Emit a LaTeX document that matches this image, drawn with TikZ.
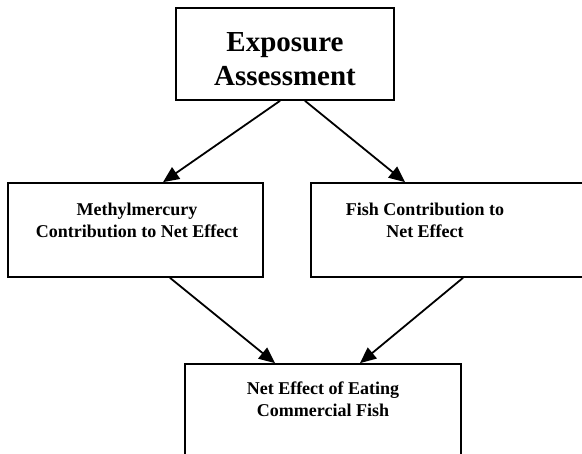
\documentclass[tikz,border=0pt]{standalone}
\usepackage{fontspec}
\setmainfont{Liberation Serif}
\usetikzlibrary{arrows.meta}

\tikzset{
  box/.style={draw, line width=1.7pt, rectangle, inner sep=0pt},
  bigtext/.style={font=\bfseries\fontsize{29}{34}\selectfont, align=center, inner sep=0pt},
  smalltext/.style={font=\bfseries\fontsize{18}{22}\selectfont, align=center, inner sep=0pt},
  arr/.style={line width=1.8pt, -{Triangle[length=16pt, width=14pt]}}
}

\begin{document}
\begin{tikzpicture}[x=1pt, y=-1pt]

    % --- Frame ---
    \useasboundingbox (0,0) rectangle (582,454);
    \clip (0,0) rectangle (582,454);

    % --- Boxes ---
    % Top box
    \node[box, minimum width=218pt, minimum height=92pt] (expo) at (285,54) {};
    % Middle boxes (the right one runs off the page)
    \node[box, minimum width=255pt, minimum height=94pt] (meth) at (135.5,230) {};
    \node[box, minimum width=279pt, minimum height=94pt] (fish) at (450.5,230) {};
    % Bottom box (runs off the bottom)
    \node[box, minimum width=276pt, minimum height=106pt] (net) at (323,417) {};

    % --- Texts ---
    \node[bigtext] (expotxt) at (285,59.5) {Exposure\\Assessment};
    \node[smalltext] (methtxt) at (137,220.5) {Methylmercury\\Contribution to Net Effect};
    \node[smalltext] (fishtxt) at (425,220.5) {Fish Contribution to\\Net Effect};
    \node[smalltext] (nettxt) at (323,399) {Net Effect of Eating\\Commercial Fish};

    % --- Arrows ---
    \draw[arr] ([xshift=-5pt]expo.south) -- ([xshift=27.5pt]meth.north);
    \draw[arr] ([xshift=20pt]expo.south) -- ([xshift=-45.5pt]fish.north);
    \draw[arr] ([xshift=34.5pt]meth.south) -- ([xshift=-48pt]net.north);
    \draw[arr] ([xshift=12.5pt]fish.south) -- ([xshift=37pt]net.north);

\end{tikzpicture}
\end{document}
